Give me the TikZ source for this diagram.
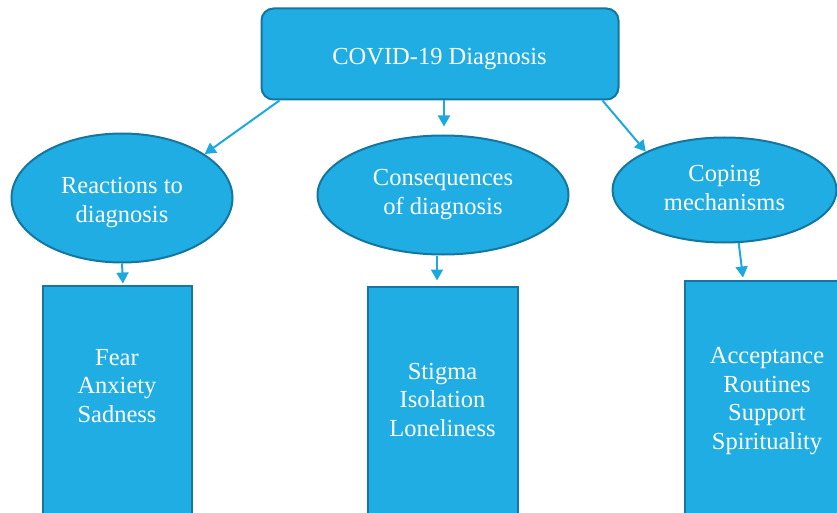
\documentclass[tikz,border=0pt]{standalone}
\usepackage{fontspec}
\setmainfont{Liberation Serif}
\usetikzlibrary{arrows.meta, positioning, shapes.geometric}
\definecolor{boxblue}{RGB}{31,173,227}
\definecolor{edgeblue}{RGB}{21,118,160}
\definecolor{arrowblue}{RGB}{30,168,224}

\begin{document}
\begin{tikzpicture}[x=1pt, y=-1pt,
    topbox/.style={draw=edgeblue, fill=boxblue, line width=2pt, rounded corners=12pt, minimum width=357pt, minimum height=91pt},
    theme/.style={ellipse, draw=edgeblue, fill=boxblue, line width=2pt, inner sep=0pt},
    listbox/.style={draw=edgeblue, fill=boxblue, line width=2pt, minimum height=260pt, anchor=north},
    word/.style={text=white, font=\fontsize{24.5}{28.4}\selectfont, align=center, inner sep=0pt},
    link/.style={draw=arrowblue, line width=2pt, -{Triangle[length=11pt, width=12pt]}}]
    \useasboundingbox (0,0) rectangle (837,513);

    % shapes
    \node[topbox] (top) at (440,54) {};
    \node[theme, minimum width=221pt, minimum height=129pt] (react) at (122,198) {};
    \node[theme, minimum width=251pt, minimum height=119pt] (cons) at (443,195) {};
    \node[theme, minimum width=224pt, minimum height=105pt] (cope) at (724.5,190) {};
    \node[listbox, minimum width=149pt] (fearbox) at (117,284.5) {};
    \node[listbox, minimum width=150pt] (stigbox) at (442.5,285.5) {};
    \node[listbox, minimum width=165pt] (copebox) at (767,279.5) {};

    % texts
    \node[word] (toptext) at (439.5,59) {COVID-19 Diagnosis};
    \node[word] (reacttext) at (122,202.5) {Reactions to\\diagnosis};
    \node[word] (constext) at (443,194.5) {Consequences\\of diagnosis};
    \node[word] (copetext) at (724.5,188) {Coping\\mechanisms};
    \node[word] (feartext) at (117,386) {Fear\\Anxiety\\Sadness};
    \node[word] (stigtext) at (442.5,400) {Stigma\\Isolation\\Loneliness};
    \node[word] (copelist) at (767,401) {Acceptance\\Routines\\Support\\Spirituality};

    % arrows
    \draw[link] ([xshift=19pt]top.south west) -- (react.28.5);
    \draw[link, shorten >=8pt] ([xshift=4pt]top.south) -- ([xshift=4pt]top.south |- cons.north);
    \draw[link] ([xshift=-17pt]top.south east) -- (cope.154.6);
    \draw[link] (react.south) -- ([xshift=1pt, yshift=1pt]react.south |- fearbox.north);
    \draw[link] ([xshift=-6pt]cons.south) -- ([xshift=-6pt, yshift=5pt]cons.south |- stigbox.north);
    \draw[link] (cope.285.4) -- ([xshift=-24pt, yshift=2pt]copebox.north);
\end{tikzpicture}
\end{document}
